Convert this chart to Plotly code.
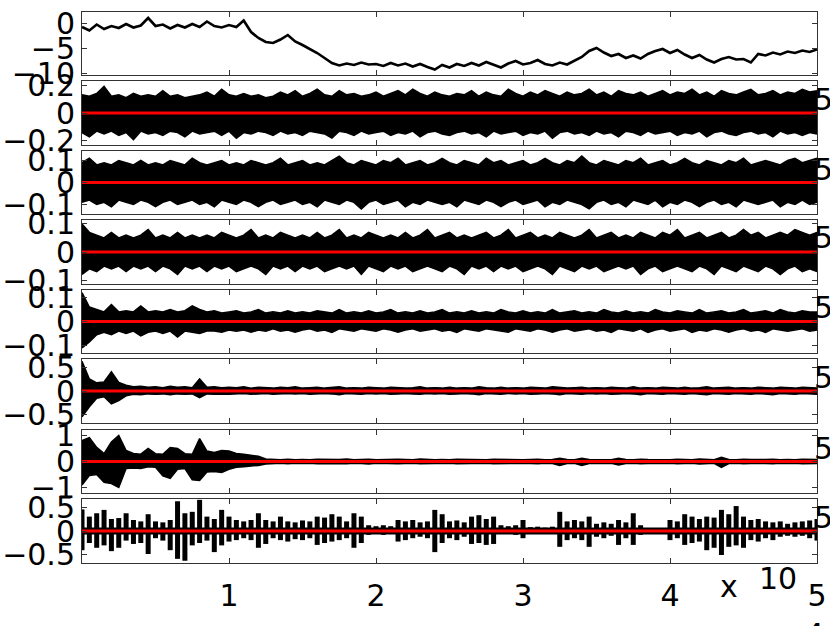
import numpy as np
import plotly.graph_objects as go

# x axis (samples), shown as x 10^5
x_max = 500000
x_tick_vals = [100000, 200000, 300000, 400000, 500000]
x_tick_text = ["1", "2", "3", "4", "5"]

# panel 1: slow trend
trend = [-0.8, -1.5, -0.3, -1.2, -0.6, -1.0, -0.2, -0.9, -0.5, 1.0,
         -0.6, -0.3, -1.1, -0.4, -0.9, -0.2, -0.8, 0.3, -0.6, -0.9,
         -0.4, -0.8, 0.5, -1.8, -3.0, -3.8, -4.0, -3.3, -2.4, -3.7,
         -4.4, -5.2, -6.0, -7.0, -8.0, -8.5, -8.1, -8.4, -7.9, -8.3,
         -8.2, -8.6, -8.0, -8.5, -8.1, -8.7, -8.2, -8.8, -9.3, -8.4,
         -8.9, -8.2, -8.6, -8.0, -8.5, -7.8, -8.4, -8.9, -8.1, -7.6,
         -8.3, -8.0, -7.4, -8.2, -8.5, -7.9, -8.3, -7.6, -6.8, -5.6,
         -5.0, -5.9, -6.6, -6.2, -7.0, -6.5, -7.1, -6.2, -5.6, -5.2,
         -6.0, -5.4, -6.3, -7.0, -6.4, -7.3, -7.9, -7.2, -6.8, -7.3,
         -7.2, -7.9, -6.2, -6.5, -5.9, -6.3, -5.7, -6.0, -5.5, -5.8, -5.3]

# panels 2-7: upper / lower envelope of the dense signals
p2_up = [0.13, 0.12, 0.14, 0.19, 0.12, 0.13, 0.11, 0.14, 0.12, 0.13,
         0.12, 0.16, 0.12, 0.13, 0.11, 0.12, 0.13, 0.15, 0.12, 0.17,
         0.13, 0.12, 0.14, 0.12, 0.13, 0.11, 0.12, 0.15, 0.13, 0.16,
         0.12, 0.14, 0.17, 0.13, 0.12, 0.16, 0.13, 0.14, 0.12, 0.13,
         0.15, 0.12, 0.14, 0.16, 0.13, 0.17, 0.14, 0.12, 0.15, 0.13,
         0.12, 0.14, 0.13, 0.16, 0.12, 0.15, 0.13, 0.12, 0.17, 0.14,
         0.12, 0.15, 0.13, 0.16, 0.14, 0.12, 0.15, 0.13, 0.14, 0.17,
         0.13, 0.15, 0.12, 0.16, 0.14, 0.13, 0.15, 0.12, 0.14, 0.16,
         0.13, 0.15, 0.14, 0.17, 0.13, 0.15, 0.12, 0.16, 0.14, 0.13,
         0.15, 0.17, 0.13, 0.14, 0.16, 0.13, 0.15, 0.14, 0.17, 0.15, 0.16]
p2_lo = [-0.14, -0.17, -0.13, -0.15, -0.13, -0.16, -0.14, -0.19, -0.13, -0.15,
         -0.14, -0.16, -0.13, -0.14, -0.17, -0.13, -0.15, -0.14, -0.13, -0.16,
         -0.13, -0.18, -0.14, -0.15, -0.13, -0.14, -0.16, -0.13, -0.15, -0.14,
         -0.16, -0.13, -0.14, -0.15, -0.18, -0.13, -0.14, -0.16, -0.13, -0.15,
         -0.14, -0.13, -0.16, -0.14, -0.15, -0.13, -0.17, -0.14, -0.13, -0.15,
         -0.16, -0.14, -0.13, -0.15, -0.14, -0.17, -0.13, -0.15, -0.14, -0.13,
         -0.16, -0.14, -0.15, -0.13, -0.18, -0.14, -0.13, -0.15, -0.14, -0.16,
         -0.13, -0.15, -0.14, -0.17, -0.13, -0.14, -0.16, -0.13, -0.15, -0.14,
         -0.13, -0.16, -0.14, -0.15, -0.13, -0.17, -0.14, -0.13, -0.15, -0.16,
         -0.14, -0.13, -0.15, -0.14, -0.17, -0.13, -0.15, -0.14, -0.16, -0.14, -0.15]

p3_up = [0.09, 0.11, 0.08, 0.09, 0.08, 0.10, 0.09, 0.08, 0.10, 0.08,
         0.09, 0.08, 0.10, 0.09, 0.08, 0.11, 0.09, 0.08, 0.09, 0.10,
         0.08, 0.09, 0.08, 0.10, 0.09, 0.08, 0.09, 0.11, 0.08, 0.09,
         0.10, 0.08, 0.09, 0.08, 0.10, 0.12, 0.09, 0.08, 0.10, 0.09,
         0.08, 0.10, 0.09, 0.11, 0.08, 0.09, 0.10, 0.08, 0.09, 0.11,
         0.09, 0.08, 0.10, 0.09, 0.08, 0.11, 0.09, 0.10, 0.08, 0.09,
         0.10, 0.08, 0.09, 0.11, 0.09, 0.08, 0.10, 0.09, 0.12, 0.09,
         0.08, 0.10, 0.09, 0.08, 0.10, 0.09, 0.11, 0.08, 0.09, 0.10,
         0.08, 0.09, 0.11, 0.09, 0.08, 0.10, 0.09, 0.08, 0.10, 0.09,
         0.11, 0.08, 0.09, 0.10, 0.09, 0.08, 0.10, 0.11, 0.09, 0.10, 0.11]
p3_lo = [-0.09, -0.08, -0.10, -0.09, -0.11, -0.08, -0.09, -0.10, -0.08, -0.09,
         -0.11, -0.09, -0.08, -0.10, -0.09, -0.08, -0.10, -0.09, -0.11, -0.08,
         -0.09, -0.10, -0.08, -0.09, -0.11, -0.09, -0.08, -0.10, -0.09, -0.08,
         -0.10, -0.09, -0.11, -0.08, -0.09, -0.10, -0.08, -0.09, -0.12, -0.09,
         -0.08, -0.10, -0.09, -0.08, -0.11, -0.09, -0.10, -0.08, -0.09, -0.10,
         -0.09, -0.11, -0.08, -0.09, -0.10, -0.08, -0.09, -0.11, -0.09, -0.08,
         -0.10, -0.09, -0.08, -0.11, -0.09, -0.10, -0.08, -0.09, -0.10, -0.12,
         -0.09, -0.08, -0.10, -0.09, -0.11, -0.08, -0.09, -0.10, -0.08, -0.11,
         -0.09, -0.10, -0.08, -0.09, -0.11, -0.09, -0.08, -0.10, -0.09, -0.11,
         -0.08, -0.09, -0.10, -0.09, -0.08, -0.11, -0.09, -0.10, -0.08, -0.10, -0.09]

p4_up = [0.10, 0.07, 0.06, 0.05, 0.07, 0.05, 0.06, 0.05, 0.06, 0.08,
         0.05, 0.06, 0.05, 0.07, 0.05, 0.06, 0.05, 0.06, 0.05, 0.07,
         0.06, 0.05, 0.06, 0.08, 0.05, 0.06, 0.05, 0.07, 0.06, 0.05,
         0.06, 0.05, 0.07, 0.05, 0.06, 0.08, 0.05, 0.06, 0.05, 0.07,
         0.06, 0.05, 0.06, 0.05, 0.07, 0.05, 0.06, 0.08, 0.05, 0.06,
         0.07, 0.05, 0.06, 0.05, 0.06, 0.07, 0.05, 0.06, 0.08, 0.05,
         0.06, 0.07, 0.05, 0.06, 0.05, 0.07, 0.06, 0.05, 0.06, 0.08,
         0.05, 0.06, 0.07, 0.05, 0.06, 0.05, 0.07, 0.06, 0.05, 0.07,
         0.06, 0.08, 0.05, 0.06, 0.07, 0.05, 0.06, 0.07, 0.05, 0.06,
         0.08, 0.06, 0.07, 0.05, 0.06, 0.07, 0.06, 0.08, 0.07, 0.06, 0.07]
p4_lo = [-0.08, -0.06, -0.07, -0.05, -0.06, -0.05, -0.07, -0.05, -0.06, -0.05,
         -0.07, -0.05, -0.06, -0.08, -0.05, -0.06, -0.05, -0.07, -0.05, -0.06,
         -0.05, -0.07, -0.06, -0.05, -0.06, -0.08, -0.05, -0.06, -0.05, -0.07,
         -0.05, -0.06, -0.05, -0.07, -0.06, -0.05, -0.06, -0.05, -0.08, -0.05,
         -0.06, -0.07, -0.05, -0.06, -0.05, -0.07, -0.06, -0.05, -0.06, -0.07,
         -0.05, -0.06, -0.08, -0.05, -0.06, -0.05, -0.07, -0.05, -0.06, -0.05,
         -0.07, -0.06, -0.05, -0.06, -0.08, -0.05, -0.06, -0.07, -0.05, -0.06,
         -0.05, -0.07, -0.06, -0.05, -0.06, -0.05, -0.08, -0.06, -0.05, -0.07,
         -0.06, -0.05, -0.06, -0.07, -0.05, -0.06, -0.08, -0.05, -0.06, -0.07,
         -0.05, -0.06, -0.07, -0.05, -0.06, -0.08, -0.06, -0.05, -0.07, -0.06, -0.07]

p5_up = [0.12, 0.06, 0.05, 0.04, 0.07, 0.04, 0.045, 0.04, 0.065, 0.04,
         0.045, 0.04, 0.05, 0.04, 0.045, 0.065, 0.05, 0.04, 0.045, 0.035,
         0.04, 0.045, 0.035, 0.04, 0.05, 0.035, 0.04, 0.035, 0.045, 0.035,
         0.04, 0.035, 0.045, 0.04, 0.035, 0.05, 0.035, 0.04, 0.035, 0.045,
         0.035, 0.04, 0.05, 0.035, 0.04, 0.035, 0.045, 0.035, 0.04, 0.05,
         0.035, 0.04, 0.035, 0.045, 0.035, 0.04, 0.035, 0.05, 0.04, 0.035,
         0.045, 0.035, 0.04, 0.035, 0.05, 0.035, 0.04, 0.045, 0.035, 0.04,
         0.035, 0.05, 0.04, 0.035, 0.045, 0.035, 0.04, 0.035, 0.05, 0.04,
         0.035, 0.045, 0.04, 0.035, 0.05, 0.035, 0.04, 0.045, 0.035, 0.04,
         0.05, 0.035, 0.04, 0.045, 0.035, 0.05, 0.04, 0.035, 0.045, 0.04, 0.04]
p5_lo = [-0.11, -0.085, -0.055, -0.045, -0.055, -0.04, -0.05, -0.04, -0.06, -0.045,
         -0.04, -0.05, -0.04, -0.065, -0.04, -0.045, -0.05, -0.04, -0.04, -0.045,
         -0.035, -0.04, -0.035, -0.045, -0.035, -0.04, -0.03, -0.04, -0.035, -0.045,
         -0.035, -0.03, -0.04, -0.035, -0.045, -0.03, -0.035, -0.04, -0.03, -0.035,
         -0.04, -0.03, -0.035, -0.045, -0.035, -0.03, -0.04, -0.035, -0.03, -0.04,
         -0.035, -0.045, -0.03, -0.035, -0.04, -0.03, -0.035, -0.04, -0.045, -0.03,
         -0.035, -0.04, -0.03, -0.035, -0.045, -0.035, -0.03, -0.04, -0.035, -0.03,
         -0.04, -0.035, -0.045, -0.03, -0.035, -0.04, -0.03, -0.045, -0.035, -0.03,
         -0.04, -0.035, -0.03, -0.045, -0.035, -0.04, -0.03, -0.035, -0.045, -0.035,
         -0.03, -0.04, -0.035, -0.045, -0.03, -0.035, -0.04, -0.035, -0.03, -0.04, -0.035]

p6_up = [0.62, 0.25, 0.17, 0.19, 0.40, 0.18, 0.12, 0.09, 0.10, 0.08,
         0.09, 0.07, 0.10, 0.08, 0.09, 0.07, 0.25, 0.08, 0.09, 0.07,
         0.08, 0.07, 0.09, 0.06, 0.08, 0.07, 0.06, 0.08, 0.07, 0.09,
         0.06, 0.07, 0.08, 0.06, 0.07, 0.09, 0.06, 0.07, 0.06, 0.08,
         0.07, 0.06, 0.08, 0.07, 0.06, 0.07, 0.09, 0.06, 0.07, 0.06,
         0.08, 0.06, 0.07, 0.06, 0.09, 0.07, 0.06, 0.08, 0.06, 0.07,
         0.06, 0.08, 0.07, 0.06, 0.09, 0.07, 0.06, 0.07, 0.08, 0.06,
         0.07, 0.06, 0.08, 0.07, 0.06, 0.09, 0.06, 0.07, 0.06, 0.08,
         0.07, 0.06, 0.08, 0.06, 0.07, 0.09, 0.06, 0.07, 0.08, 0.06,
         0.07, 0.06, 0.08, 0.07, 0.06, 0.08, 0.07, 0.06, 0.08, 0.07, 0.06]
p6_lo = [-0.54, -0.33, -0.15, -0.12, -0.27, -0.20, -0.10, -0.07, -0.08, -0.06,
         -0.07, -0.06, -0.08, -0.06, -0.07, -0.06, -0.14, -0.06, -0.07, -0.06,
         -0.07, -0.06, -0.05, -0.07, -0.06, -0.05, -0.07, -0.06, -0.05, -0.06,
         -0.05, -0.07, -0.06, -0.05, -0.06, -0.08, -0.05, -0.06, -0.07, -0.05,
         -0.06, -0.05, -0.07, -0.06, -0.05, -0.06, -0.07, -0.05, -0.06, -0.05,
         -0.07, -0.06, -0.05, -0.06, -0.08, -0.05, -0.06, -0.07, -0.05, -0.06,
         -0.05, -0.07, -0.06, -0.05, -0.06, -0.08, -0.05, -0.06, -0.07, -0.05,
         -0.06, -0.05, -0.07, -0.06, -0.05, -0.06, -0.08, -0.05, -0.06, -0.07,
         -0.05, -0.06, -0.07, -0.05, -0.06, -0.08, -0.05, -0.06, -0.07, -0.05,
         -0.06, -0.07, -0.05, -0.06, -0.08, -0.05, -0.06, -0.07, -0.05, -0.06, -0.07]

p7_up = [0.80, 0.92, 0.54, 0.30, 0.75, 1.00, 0.42, 0.31, 0.28, 0.50,
         0.30, 0.28, 0.54, 0.50, 0.30, 0.28, 0.88, 0.40, 0.35, 0.42,
         0.40, 0.31, 0.28, 0.23, 0.20, 0.10, 0.08, 0.07, 0.09, 0.07,
         0.08, 0.07, 0.09, 0.08, 0.07, 0.08, 0.10, 0.07, 0.08, 0.09,
         0.07, 0.08, 0.07, 0.09, 0.08, 0.07, 0.10, 0.08, 0.07, 0.08,
         0.07, 0.09, 0.08, 0.07, 0.08, 0.07, 0.09, 0.08, 0.07, 0.08,
         0.07, 0.08, 0.09, 0.07, 0.08, 0.12, 0.08, 0.07, 0.12, 0.08,
         0.07, 0.08, 0.07, 0.12, 0.08, 0.07, 0.09, 0.08, 0.07, 0.08,
         0.07, 0.09, 0.08, 0.07, 0.10, 0.08, 0.07, 0.16, 0.08, 0.07,
         0.09, 0.08, 0.07, 0.08, 0.09, 0.07, 0.08, 0.07, 0.09, 0.08, 0.08]
p7_lo = [-0.90, -0.54, -0.50, -0.80, -0.85, -1.00, -0.27, -0.25, -0.27, -0.20,
         -0.22, -0.55, -0.65, -0.30, -0.27, -0.70, -0.73, -0.40, -0.38, -0.42,
         -0.30, -0.22, -0.20, -0.18, -0.15, -0.10, -0.08, -0.07, -0.09, -0.07,
         -0.08, -0.07, -0.09, -0.08, -0.07, -0.08, -0.09, -0.07, -0.08, -0.10,
         -0.07, -0.08, -0.07, -0.09, -0.08, -0.07, -0.09, -0.08, -0.07, -0.08,
         -0.07, -0.09, -0.08, -0.07, -0.08, -0.07, -0.09, -0.08, -0.07, -0.08,
         -0.07, -0.08, -0.09, -0.07, -0.08, -0.15, -0.08, -0.07, -0.15, -0.08,
         -0.07, -0.08, -0.07, -0.13, -0.08, -0.07, -0.09, -0.08, -0.07, -0.08,
         -0.07, -0.09, -0.08, -0.07, -0.10, -0.08, -0.07, -0.23, -0.08, -0.07,
         -0.09, -0.08, -0.07, -0.08, -0.09, -0.07, -0.08, -0.07, -0.09, -0.08, -0.08]

# panel 8: separate oscillation bursts (peak up / peak down)
p8_up = [0.45, 0.30, 0.37, 0.44, 0.25, 0.27, 0.37, 0.23, 0.20, 0.35,
         0.20, 0.18, 0.23, 0.62, 0.37, 0.40, 0.65, 0.30, 0.25, 0.44,
         0.30, 0.23, 0.20, 0.23, 0.37, 0.23, 0.20, 0.30, 0.20, 0.18,
         0.22, 0.20, 0.30, 0.28, 0.35, 0.30, 0.20, 0.37, 0.30, 0.12,
         0.10, 0.12, 0.10, 0.23, 0.20, 0.23, 0.18, 0.20, 0.44, 0.35,
         0.20, 0.22, 0.18, 0.30, 0.33, 0.25, 0.30, 0.12, 0.10, 0.12,
         0.23, 0.08, 0.09, 0.07, 0.09, 0.40, 0.20, 0.23, 0.20, 0.30,
         0.15, 0.18, 0.15, 0.23, 0.18, 0.37, 0.12, 0.06, 0.05, 0.06,
         0.23, 0.20, 0.35, 0.30, 0.25, 0.30, 0.28, 0.44, 0.35, 0.52,
         0.30, 0.23, 0.25, 0.20, 0.18, 0.20, 0.15, 0.18, 0.20, 0.22, 0.25]
p8_lo = [-0.40, -0.25, -0.35, -0.30, -0.42, -0.35, -0.20, -0.27, -0.25, -0.48,
         -0.15, -0.20, -0.40, -0.58, -0.62, -0.30, -0.25, -0.20, -0.44, -0.30,
         -0.22, -0.19, -0.15, -0.19, -0.35, -0.27, -0.15, -0.19, -0.22, -0.17,
         -0.19, -0.15, -0.29, -0.25, -0.22, -0.19, -0.15, -0.35, -0.25, -0.08,
         -0.06, -0.08, -0.06, -0.22, -0.19, -0.15, -0.12, -0.15, -0.44, -0.25,
         -0.15, -0.19, -0.12, -0.27, -0.25, -0.29, -0.27, -0.06, -0.05, -0.08,
         -0.15, -0.05, -0.05, -0.04, -0.05, -0.33, -0.19, -0.15, -0.19, -0.33,
         -0.12, -0.15, -0.10, -0.29, -0.15, -0.29, -0.08, -0.04, -0.04, -0.05,
         -0.19, -0.15, -0.29, -0.25, -0.22, -0.40, -0.35, -0.50, -0.33, -0.30,
         -0.35, -0.19, -0.22, -0.15, -0.19, -0.12, -0.10, -0.12, -0.10, -0.15, -0.20]

envelopes = [(p2_up, p2_lo), (p3_up, p3_lo), (p4_up, p4_lo),
             (p5_up, p5_lo), (p6_up, p6_lo), (p7_up, p7_lo)]

# y axes of the 8 panels
y_ranges = [[-10.4, 2.2], [-0.229, 0.229], [-0.143, 0.143], [-0.114, 0.114],
            [-0.131, 0.131], [-0.667, 0.667], [-1.21, 1.21], [-0.667, 0.667]]
y_tick_vals = [[0, -5, -10], [0.2, 0, -0.2], [0.1, 0, -0.1], [0.1, 0, -0.1],
               [0.1, 0, -0.1], [0.5, 0, -0.5], [1, 0, -1], [0.5, 0, -0.5]]
y_tick_text = [["0", "−5", "−10"], ["0.2", "0", "−0.2"], ["0.1", "0", "−0.1"],
               ["0.1", "0", "−0.1"], ["0.1", "0", "−0.1"], ["0.5", "0", "−0.5"],
               ["1", "0", "−1"], ["0.5", "0", "−0.5"]]
zero_line = [0, 0]

W, H = 830, 626
panel_px = [(12, 75), (81, 145), (151, 214), (220, 284),
            (290, 353), (359, 423), (430, 493), (499, 563)]


def px_x(p):
    return p / W


def px_y(p):
    return 1 - p / H


x_dom = [px_x(82), px_x(817)]
FONT = "DejaVu Sans, Liberation Sans, sans-serif"
FS = 30

fig = go.Figure()


def ax(n):
    return ("x" if n == 1 else f"x{n}"), ("y" if n == 1 else f"y{n}")


# panel 1
xa, ya = ax(1)
fig.add_trace(go.Scatter(x=np.linspace(0, x_max, len(trend)), y=trend, mode="lines",
                         line=dict(color="black", width=2.6), xaxis=xa, yaxis=ya))

# panels 2-7: filled envelopes
for k, (up, lo) in enumerate(envelopes):
    xa, ya = ax(k + 2)
    fig.add_trace(go.Scatter(x=np.linspace(0, x_max, len(up)), y=up, mode="lines",
                             line=dict(color="black", width=1.5), xaxis=xa, yaxis=ya))
    fig.add_trace(go.Scatter(x=np.linspace(0, x_max, len(lo)), y=lo, mode="lines",
                             fill="tonexty", fillcolor="black",
                             line=dict(color="black", width=1.5), xaxis=xa, yaxis=ya))

# panel 8: vertical strokes
xa, ya = ax(8)
xs8 = np.linspace(0, x_max, len(p8_up))
sx, sy = [], []
for xv, u, l in zip(xs8, p8_up, p8_lo):
    sx += [xv, xv, None]
    sy += [l, u, None]
fig.add_trace(go.Scatter(x=[0, x_max], y=zero_line, mode="lines",
                         line=dict(color="black", width=7), xaxis=xa, yaxis=ya))
fig.add_trace(go.Scatter(x=sx, y=sy, mode="lines", line=dict(color="black", width=5),
                         xaxis=xa, yaxis=ya))

# red zero lines
for n in range(2, 9):
    xa, ya = ax(n)
    fig.add_trace(go.Scatter(x=[0, x_max], y=zero_line, mode="lines",
                             line=dict(color="#ff0000", width=3), xaxis=xa, yaxis=ya))

layout = {}
for i, (top, bot) in enumerate(panel_px):
    n = i + 1
    xk = "xaxis" if n == 1 else f"xaxis{n}"
    yk = "yaxis" if n == 1 else f"yaxis{n}"
    layout[xk] = dict(domain=x_dom, range=[0, x_max], anchor="y" if n == 1 else f"y{n}",
                      tickvals=x_tick_vals, ticktext=x_tick_text, ticks="inside", ticklen=5,
                      tickcolor="#333", showline=True, linecolor="#333", linewidth=1,
                      mirror="ticks", showgrid=False, zeroline=False, automargin=False,
                      ticklabeloverflow="allow", ticklabelstandoff=6,
                      showticklabels=(n == 8), tickfont=dict(size=FS, color="black", family=FONT))
    layout[yk] = dict(domain=[px_y(bot), px_y(top)], range=y_ranges[i],
                      anchor="x" if n == 1 else f"x{n}", automargin=False,
                      ticklabeloverflow="allow",
                      tickvals=y_tick_vals[i], ticktext=y_tick_text[i], ticks="inside", ticklen=5,
                      tickcolor="#333", showline=True, linecolor="#333", linewidth=1,
                      mirror="ticks", showgrid=False, zeroline=False,
                      tickfont=dict(size=FS, color="black", family=FONT))

annotations = []
for top, bot in panel_px[1:]:
    annotations.append(dict(text="5", x=px_x(812), y=px_y(top + 18), xref="paper", yref="paper",
                            xanchor="left", yanchor="middle", showarrow=False,
                            font=dict(size=FS, color="black", family=FONT)))
annotations.append(dict(text="x", x=px_x(729), y=px_y(586), xref="paper", yref="paper",
                        xanchor="center", yanchor="middle", showarrow=False,
                        font=dict(size=FS, color="black", family=FONT)))
annotations.append(dict(text="10", x=px_x(778), y=px_y(578), xref="paper", yref="paper",
                        xanchor="center", yanchor="middle", showarrow=False,
                        font=dict(size=FS, color="black", family=FONT)))
annotations.append(dict(text="4", x=px_x(814), y=px_y(634), xref="paper", yref="paper",
                        xanchor="center", yanchor="middle", showarrow=False,
                        font=dict(size=FS, color="black", family=FONT)))

fig.update_layout(width=W, height=H, margin=dict(l=0, r=0, t=0, b=0, autoexpand=False),
                  plot_bgcolor="white", paper_bgcolor="white", showlegend=False,
                  font=dict(family=FONT, size=FS, color="black"),
                  annotations=annotations, **layout)

# the figure fills the whole window, so drop the page's default body margin
fig.write_html("out.html", config={"displayModeBar": False},
               post_script="document.body.style.margin='0px';")
